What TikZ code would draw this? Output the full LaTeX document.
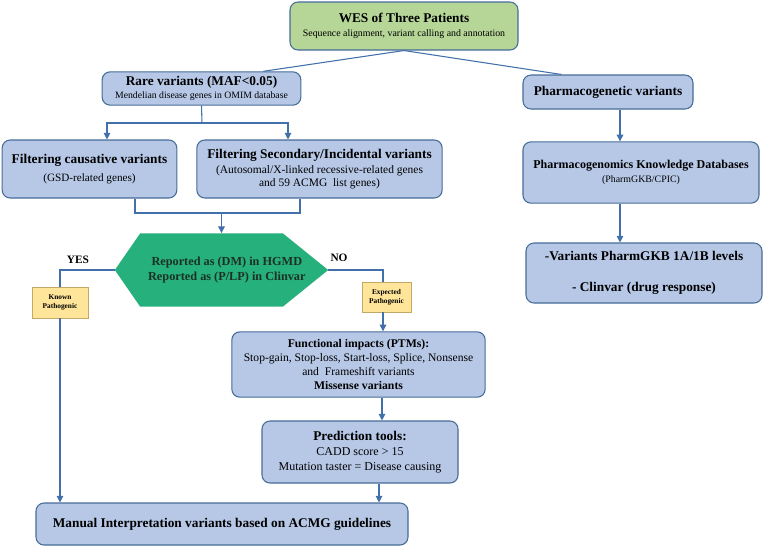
\documentclass[tikz,border=0pt]{standalone}
\usepackage{fontspec}
\setmainfont{Liberation Serif}
\usetikzlibrary{positioning, calc, arrows.meta}

\definecolor{boxblue}{RGB}{183,200,231}
\definecolor{boxline}{RGB}{70,108,152}
\definecolor{linkblue}{RGB}{66,112,170}
\definecolor{wesgreen}{RGB}{181,214,151}
\definecolor{hexgreen}{RGB}{38,176,124}
\definecolor{hextext}{RGB}{28,48,38}
\definecolor{tagyellow}{RGB}{255,229,153}
\definecolor{tagline}{RGB}{196,168,104}

\newcommand{\subline}[2]{{\fontsize{#1}{1.2\dimexpr#1\relax}\selectfont #2}}

\tikzset{
  stepbox/.style={draw=boxline, fill=boxblue, rounded corners=6pt, line width=0.8pt,
    align=center, inner sep=1pt, font=\fontsize{10pt}{12pt}\selectfont},
  tagbox/.style={draw=tagline, fill=tagyellow, line width=0.5pt, align=center,
    inner sep=1pt, font=\fontsize{5.5pt}{7pt}\selectfont\bfseries},
  hexnode/.style={align=center, inner sep=0pt, text=hextext,
    font=\fontsize{9.2pt}{11pt}\selectfont\bfseries,
    path picture={\fill[hexgreen] (path picture bounding box.west)
      -- ([xshift=19pt]path picture bounding box.north west)
      -- ([xshift=-34pt]path picture bounding box.north east)
      -- (path picture bounding box.east)
      -- ([xshift=-34pt]path picture bounding box.south east)
      -- ([xshift=19pt]path picture bounding box.south west) -- cycle;}},
  link/.style={draw=linkblue, line width=0.8pt},
  arr/.style={link, -{Triangle[length=5pt,width=5pt]}},
  yesno/.style={font=\fontsize{8.5pt}{10pt}\selectfont\bfseries},
}

\begin{document}
\begin{tikzpicture}[x=0.75pt, y=-0.75pt]
    \useasboundingbox (0,0) rectangle (763,547);

    % Top box
    \node[stepbox, fill=wesgreen, minimum width=171pt, minimum height=36pt] (wes) at (404,26)
        {\subline{10pt}{\bfseries WES of Three Patients}\\[-1pt]
         \subline{7.4pt}{Sequence alignment,\ variant calling and annotation}};

    % Left branch
    \node[stepbox, minimum width=149pt, minimum height=25pt] (rare) at (201.5,88.5)
        {\textbf{Rare variants (MAF<0.05)}\\[-2pt]
         \subline{7.3pt}{Mendelian disease genes in OMIM database}};
    \node[stepbox, minimum width=131pt, minimum height=43.5pt] (causal) at (89.5,169)
        {\textbf{Filtering causative variants}\\[1pt]
         \subline{8.4pt}{(GSD-related genes)}};
    \node[stepbox, minimum width=184pt, minimum height=43.5pt] (second) at (319.5,169)
        {\textbf{Filtering Secondary/Incidental variants}\\[-1pt]
         \subline{8.6pt}{(Autosomal/X-linked recessive-related genes}\\[-2pt]
         \subline{8.6pt}{and 59 ACMG\ \ list genes)}};

    % Decision
    \node[hexnode, minimum width=160pt, minimum height=55pt] (hex) at (221.5,270)
        {\hspace*{8pt}Reported as (DM) in HGMD\\\hspace*{8pt}Reported as (P/LP) in Clinvar};
    \node[yesno] (yes) at (78,260) {YES};
    \node[yesno] (no) at (339,258) {NO};
    \node[tagbox, minimum width=42pt, minimum height=23pt] (known) at (60,302.5)
        {Known\\Pathogenic};
    \node[tagbox, minimum width=37pt, minimum height=22.5pt] (expected) at (386.5,297)
        {Expected\\Pathogenic};

    % Impact and prediction
    \node[stepbox, minimum width=190pt, minimum height=49pt] (func) at (358.5,364.5)
        {\subline{8.8pt}{\bfseries Functional impacts (PTMs):}\\[-1pt]
         \subline{8.7pt}{Stop-gain, Stop-loss, Start-loss, Splice, Nonsense}\\[-2pt]
         \subline{8.7pt}{and\ \ Frameshift variants}\\[-1pt]
         \subline{8.8pt}{\bfseries Missense variants}};
    \node[stepbox, minimum width=147pt, minimum height=46.5pt] (pred) at (360,452)
        {\textbf{Prediction tools:}\\[-1pt]
         \subline{9pt}{CADD score > 15}\\[-1pt]
         \subline{9pt}{Mutation taster = Disease causing}};
    \node[stepbox, minimum width=279pt, minimum height=31.5pt] (manual) at (222,524)
        {\textbf{Manual Interpretation variants based on ACMG guidelines}};

    % Right branch
    \node[stepbox, minimum width=127.5pt, minimum height=25.5pt] (pharm) at (608,92)
        {\textbf{Pharmacogenetic variants}};
    \node[stepbox, minimum width=177pt, minimum height=46pt] (pkdb) at (641,172.5)
        {\subline{9pt}{\bfseries Pharmacogenomics Knowledge Databases}\\[-1pt]
         \subline{7.4pt}{(PharmGKB/CPIC)}};
    \node[stepbox, minimum width=177pt, minimum height=45pt] (levels) at (644,273)
        {\textbf{-Variants PharmGKB 1A/1B levels}\\[11pt]
         \textbf{- Clinvar (drug response)}};

    % Helper points
    \coordinate (fork) at (202,123);
    \coordinate (merge) at (221.5,213);
    \coordinate (pcol) at (620,0);

    % Connectors
    \draw[link] (wes.south) -- ($(rare.north east)+(-38,0)$);
    \draw[link] (wes.south) -- ($(pharm.north west)+(39,0)$);
    \draw[link] (rare.south) -- (fork);
    \draw[arr] (fork) -| ($(causal.north)+(17.5,0)$);
    \draw[arr] (fork) -| ($(second.north)+(-31.5,0)$);
    \draw[link] ($(causal.south)+(45.5,0)$) |- (merge) -| ($(second.south)+(-19.5,0)$);
    \draw[arr] (merge) -- (hex.north);
    \draw[link] (hex.west) -| (known.north);
    \draw[arr] (known.south) -- (known.south |- manual.north);
    \draw[link] (hex.east) -| ($(expected.north)+(-3.5,0)$);
    \draw[arr] ($(expected.south)+(-3.5,0)$) -- ($(func.north)+(24.5,0)$);
    \draw[arr] ($(func.south)+(23.5,0)$) -- ($(pred.north)+(22,0)$);
    \draw[arr] ($(pred.south)+(19,0)$) -- ($(manual.north)+(157,0)$);
    \draw[arr] (pharm.south -| pcol) -- (pkdb.north -| pcol);
    \draw[arr] (pkdb.south -| pcol) -- (levels.north -| pcol);

\end{tikzpicture}
\end{document}
